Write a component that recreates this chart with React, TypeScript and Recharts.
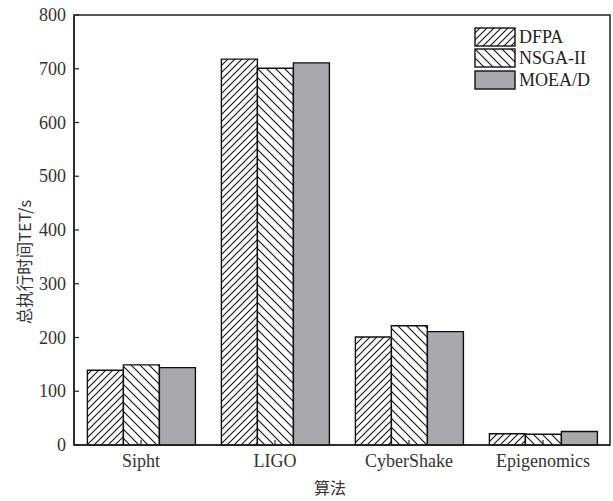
import React from 'react';
import { BarChart, Bar, XAxis, YAxis, ReferenceArea } from 'recharts';

const categories = ['Sipht', 'LIGO', 'CyberShake', 'Epigenomics'];
const dfpa = [139, 718, 201, 21];
const nsga = [149, 701, 222, 20];
const moea = [144, 711, 211, 25];
const yTicks = [0, 100, 200, 300, 400, 500, 600, 700, 800];

const data = categories.map((name, i) => ({ name, dfpa: dfpa[i], nsga: nsga[i], moea: moea[i] }));

const serif = '"Liberation Serif", "DejaVu Serif", serif';
const cjk = '"Noto Sans CJK SC", sans-serif';
const PLOT_LEFT = 74;
const PLOT_BOTTOM = 445;

function YTick(props: any) {
  const { y, payload } = props;
  return (
    <g>
      <line x1={PLOT_LEFT} x2={PLOT_LEFT + 5} y1={y} y2={y} stroke="#222" strokeWidth={1.2} />
      <text x={PLOT_LEFT - 8} y={y} dy={6} textAnchor="end" fontFamily={serif} style={{ fontFamily: serif, fontSize: 18 }} fill="#333">
        {payload.value}
      </text>
    </g>
  );
}

function XTick(props: any) {
  const { x, payload } = props;
  return (
    <g>
      <line x1={x} x2={x} y1={PLOT_BOTTOM} y2={PLOT_BOTTOM - 5} stroke="#222" strokeWidth={1.2} />
      <text x={x} y={PLOT_BOTTOM + 22} textAnchor="middle" fontFamily={serif} style={{ fontFamily: serif, fontSize: 18 }} fill="#333">
        {payload.value}
      </text>
    </g>
  );
}

const legendItems = [
  { label: 'DFPA', fill: 'url(#hatchFwd)' },
  { label: 'NSGA-II', fill: 'url(#hatchBack)' },
  { label: 'MOEA/D', fill: '#a9a9ad' },
];

function LegendBox() {
  return (
    <div style={{ position: 'absolute', left: 474, top: 26, fontFamily: serif, fontSize: 18, color: '#222' }}>
      {legendItems.map((it) => (
        <div key={it.label} style={{ display: 'flex', alignItems: 'center', height: 21.5 }}>
          <svg width={42} height={20} style={{ display: 'block' }}>
            <rect x={1} y={1} width={40} height={18} fill={it.fill} stroke="#111" strokeWidth={1.4} />
          </svg>
          <span style={{ marginLeft: 3, lineHeight: '20px' }}>{it.label}</span>
        </div>
      ))}
    </div>
  );
}

export default function App() {
  return (
    <div style={{ position: 'absolute', left: 0, top: 0, width: 613, height: 501, background: '#fff' }}>
      <BarChart
        width={613}
        height={501}
        data={data}
        margin={{ top: 15, right: 3, left: 0, bottom: 0 }}
        barCategoryGap="10%"
        barGap={0}
      >
        <defs>
          <pattern id="hatchFwd" patternUnits="userSpaceOnUse" width={7} height={7}>
            <rect width={7} height={7} fill="#fff" />
            <path d="M0,7 L7,0 M-1,1 L1,-1 M6,8 L8,6" stroke="#111" strokeWidth={1.1} />
          </pattern>
          <pattern id="hatchBack" patternUnits="userSpaceOnUse" width={9} height={9}>
            <rect width={9} height={9} fill="#fff" />
            <path d="M0,0 L9,9 M-1,8 L1,10 M8,-1 L10,1" stroke="#111" strokeWidth={1.1} />
          </pattern>
        </defs>
        <XAxis dataKey="name" height={56} tick={<XTick />} tickLine={false} axisLine={{ stroke: '#222', strokeWidth: 1.5 }} />
        <YAxis
          width={74}
          domain={[0, 800]}
          ticks={yTicks}
          interval={0}
          tick={<YTick />}
          tickLine={false}
          axisLine={{ stroke: '#222', strokeWidth: 1.5 }}
        />
        <ReferenceArea y1={0} y2={800} fill="none" stroke="#222" strokeWidth={1.5} ifOverflow="visible" />
        <Bar dataKey="dfpa" name="DFPA" fill="url(#hatchFwd)" stroke="#111" strokeWidth={1.4} isAnimationActive={false} />
        <Bar dataKey="nsga" name="NSGA-II" fill="url(#hatchBack)" stroke="#111" strokeWidth={1.4} isAnimationActive={false} />
        <Bar dataKey="moea" name="MOEA/D" fill="#a9a9ad" stroke="#111" strokeWidth={1.4} isAnimationActive={false} />
        <text x={24} y={262} transform="rotate(-90 24 262)" textAnchor="middle" dominantBaseline="central" style={{ fontFamily: cjk, fontSize: 16.5 }} fill="#333">
          总执行时间TET/s
        </text>
        <text x={330} y={494} textAnchor="middle" style={{ fontFamily: cjk, fontSize: 16 }} fill="#333">
          算法
        </text>
      </BarChart>
      <LegendBox />
    </div>
  );
}
